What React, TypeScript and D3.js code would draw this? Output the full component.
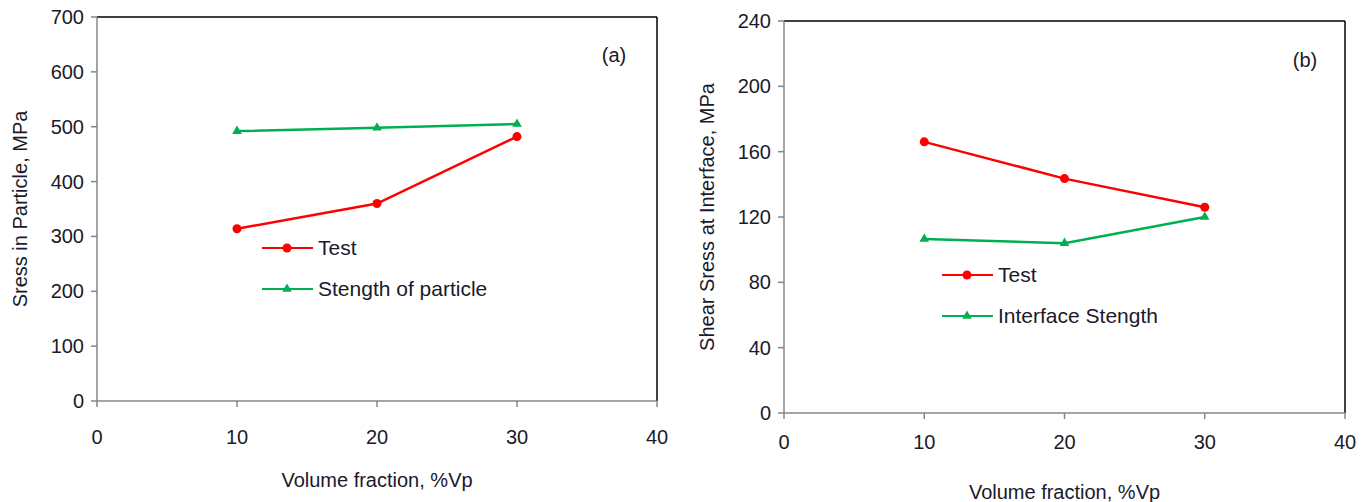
import React from 'react';
import * as d3 from 'd3';

// Volume fraction (%Vp)
const volumeFraction = [10, 20, 30];

// (a) stress in particle, MPa
const testA = [314, 360, 482];
const strengthParticle = [492, 498, 505];

// (b) shear stress at interface, MPa
const testB = [166, 143.5, 126];
const interfaceStrength = [106.5, 104, 120];

const xTicks = [0, 10, 20, 30, 40];
const yTicksA = [0, 100, 200, 300, 400, 500, 600, 700];
const yTicksB = [0, 40, 80, 120, 160, 200, 240];

const RED = '#ff0000';
const GREEN = '#00b050';
const AXIS_GREY = '#868686';
const TEXT = '#1a1a2a';
const FONT = '"Liberation Sans", Arial, sans-serif';

type Series = { name: string; values: number[]; color: string; marker: 'circle' | 'triangle' };

type PanelProps = {
  box: { left: number; right: number; top: number; bottom: number };
  yMax: number;
  yTicks: number[];
  series: Series[];
  yTitle: string;
  yTitleX: number;
  xTickY: number;
  xTitleY: number;
  tag: string;
  tagPos: [number, number];
  legend: { x: number; y: number; gap: number };
};

const Marker = ({ kind, x, y, color }: { kind: string; x: number; y: number; color: string }) =>
  kind === 'circle' ? (
    <circle cx={x} cy={y} r={4.5} fill={color} />
  ) : (
    <path d={d3.symbol(d3.symbolTriangle, 40)() as string} transform={`translate(${x},${y})`} fill={color} />
  );

const Panel = ({ box, yMax, yTicks, series, yTitle, yTitleX, xTickY, xTitleY, tag, tagPos, legend }: PanelProps) => {
  const x = d3.scaleLinear().domain([0, 40]).range([box.left, box.right]);
  const y = d3.scaleLinear().domain([0, yMax]).range([box.bottom, box.top]);
  const line = d3
    .line<number>()
    .x((_, i) => x(volumeFraction[i]))
    .y((d) => y(d));

  return (
    <g fontFamily={FONT}>
      {/* frame: top + right black, left + bottom grey */}
      <line x1={box.left} x2={box.right} y1={box.top} y2={box.top} stroke="#000" strokeWidth={1.5} />
      <line x1={box.right} x2={box.right} y1={box.top} y2={box.bottom} stroke="#000" strokeWidth={1.5} />
      <line x1={box.left} x2={box.left} y1={box.top} y2={box.bottom} stroke={AXIS_GREY} strokeWidth={1.5} />
      <line x1={box.left} x2={box.right} y1={box.bottom} y2={box.bottom} stroke={AXIS_GREY} strokeWidth={1.5} />

      {yTicks.map((t) => (
        <g key={t}>
          <line x1={box.left - 6} x2={box.left} y1={y(t)} y2={y(t)} stroke={AXIS_GREY} strokeWidth={1.5} />
          <text x={box.left - 13} y={y(t)} dy="0.35em" textAnchor="end" fontSize={20} fill={TEXT}>
            {t}
          </text>
        </g>
      ))}
      {xTicks.map((t) => (
        <g key={t}>
          <line x1={x(t)} x2={x(t)} y1={box.bottom} y2={box.bottom + 6} stroke={AXIS_GREY} strokeWidth={1.5} />
          <text x={x(t)} y={xTickY} dy="0.35em" textAnchor="middle" fontSize={20} fill={TEXT}>
            {t}
          </text>
        </g>
      ))}

      {series.map((s) => (
        <g key={s.name}>
          <path d={line(s.values) as string} fill="none" stroke={s.color} strokeWidth={2.5} />
          {s.values.map((v, i) => (
            <Marker key={i} kind={s.marker} x={x(volumeFraction[i])} y={y(v)} color={s.color} />
          ))}
        </g>
      ))}

      {series.map((s, i) => {
        const ly = legend.y + i * legend.gap;
        return (
          <g key={s.name}>
            <line x1={legend.x} x2={legend.x + 51} y1={ly} y2={ly} stroke={s.color} strokeWidth={2} />
            <Marker kind={s.marker} x={legend.x + 25} y={ly} color={s.color} />
            <text x={legend.x + 56} y={ly} dy="0.35em" fontSize={21} fill={TEXT}>
              {s.name}
            </text>
          </g>
        );
      })}

      <text x={tagPos[0]} y={tagPos[1]} dy="0.35em" textAnchor="middle" fontSize={20} fill={TEXT}>
        {tag}
      </text>
      <text
        transform={`translate(${yTitleX},${(box.top + box.bottom) / 2}) rotate(-90)`}
        textAnchor="middle"
        dy="0.35em"
        fontSize={20}
        fill={TEXT}
      >
        {yTitle}
      </text>
      <text x={(box.left + box.right) / 2} y={xTitleY} dy="0.35em" textAnchor="middle" fontSize={20} fill={TEXT}>
        Volume fraction, %Vp
      </text>
    </g>
  );
};

export default function App() {
  return (
    <svg width={1371} height={502} style={{ position: 'absolute', left: 0, top: 0, background: '#fff' }}>
      <Panel
        box={{ left: 97, right: 657, top: 17, bottom: 401 }}
        yMax={700}
        yTicks={yTicksA}
        series={[
          { name: 'Test', values: testA, color: RED, marker: 'circle' },
          { name: 'Stength of particle', values: strengthParticle, color: GREEN, marker: 'triangle' },
        ]}
        yTitle="Sress in Particle, MPa"
        yTitleX={20}
        xTickY={437}
        xTitleY={480}
        tag="(a)"
        tagPos={[614, 55]}
        legend={{ x: 262, y: 248, gap: 41 }}
      />
      <Panel
        box={{ left: 784, right: 1345, top: 21, bottom: 413 }}
        yMax={240}
        yTicks={yTicksB}
        series={[
          { name: 'Test', values: testB, color: RED, marker: 'circle' },
          { name: 'Interface Stength', values: interfaceStrength, color: GREEN, marker: 'triangle' },
        ]}
        yTitle="Shear Sress at Interface, MPa"
        yTitleX={707}
        xTickY={442}
        xTitleY={492}
        tag="(b)"
        tagPos={[1305, 60]}
        legend={{ x: 942, y: 275, gap: 41 }}
      />
    </svg>
  );
}
